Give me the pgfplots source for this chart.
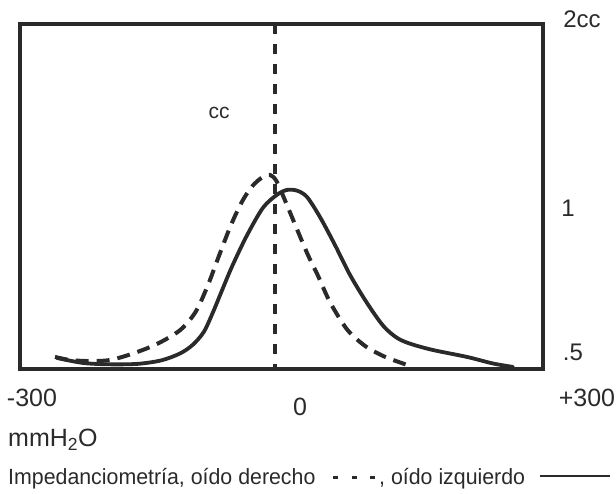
\documentclass[border=0pt]{standalone}
\usepackage{pgfplots}
\pgfplotsset{compat=1.18}
\usepackage{fontspec}
\setmainfont{Liberation Sans}
\definecolor{ink}{HTML}{2A2A2A}
\begin{document}
\begin{tikzpicture}
\useasboundingbox (-20pt,-124pt) rectangle (596pt,369pt);
\begin{axis}[name=ax, at={(0,0)}, anchor=south west, scale only axis,
  width=523pt, height=345pt,
  xmin=-302.7, xmax=262.7, ymin=0, ymax=2,
  axis line style={ink, line width=3.2pt},
  xtick=\empty, ytick=\empty, clip=false]
% oido izquierdo (solid)
\addplot[ink, line width=3.8pt, smooth, tension=0.5, line join=round, line cap=round] coordinates {
(-262.7,0.064) (-234.6,0.035) (-205.4,0.027) (-175.0,0.030) (-150.0,0.050) (-129.7,0.090)
(-116.0,0.140) (-104.0,0.215) (-94.0,0.330) (-84.0,0.460) (-73.0,0.600) (-57.3,0.775) (-40.0,0.935)
(-24.9,1.010) (-14.1,1.038) (-3.2,1.034) (7.6,0.997) (21.6,0.881)
(37.8,0.719) (54.1,0.545) (72.4,0.383) (90.0,0.250) (105.0,0.180) (120.0,0.145)
(143.8,0.110) (180.5,0.070) (208.6,0.032) (230.3,0.012)};
% oido derecho (dashed)
\addplot[ink, line width=4pt, smooth, tension=0.5, dash pattern=on 13pt off 8pt] coordinates {
(-264.9,0.070) (-248.6,0.052) (-227.0,0.046) (-205.4,0.052) (-180.5,0.090)
(-154.6,0.145) (-129.7,0.225) (-113.0,0.330) (-100.0,0.480) (-88.0,0.650)
(-75.0,0.830) (-62.7,0.970) (-51.9,1.058) (-41.1,1.110) (-32.4,1.125)
(-25.5,1.090) (-16.0,0.975) (-4.0,0.820) (8.6,0.661) (19.5,0.540)
(32.4,0.388) (50.8,0.230) (70.0,0.135) (90.0,0.075) (108.1,0.038) (122.2,0.012)};
% vertical reference line
\addplot[ink, line width=4.5pt, dash pattern=on 10pt off 10pt] coordinates {(-27,2) (-27,0)};
\end{axis}
\begin{scope}[every node/.style={inner sep=0pt, text=ink}]
\node[font=\fontsize{24}{28}\selectfont] at (562pt,350pt) {2cc};
\node[font=\fontsize{24}{28}\selectfont] at (548pt,161pt) {1};
\node[font=\fontsize{24}{28}\selectfont] at (553pt,17pt) {.5};
\node[font=\fontsize{21}{25}\selectfont] at (199pt,256pt) {cc};
\node[font=\fontsize{25}{29}\selectfont] at (12pt,-29pt) {-300};
\node[font=\fontsize{25}{29}\selectfont] at (280pt,-38pt) {0};
\node[font=\fontsize{25}{29}\selectfont] at (567pt,-29pt) {+300};
\node[font=\fontsize{25}{29}\selectfont, anchor=west] at (-12pt,-71pt) {mmH\textsubscript{2}O};
\node[font=\fontsize{22}{26}\selectfont, anchor=base west] at (-12pt,-115pt) {\scalebox{0.97}[1]{Impedanciometría, oído derecho}};
\node[font=\fontsize{22}{26}\selectfont, anchor=base west] at (359pt,-115pt) {\scalebox{0.97}[1]{, oído izquierdo}};
\end{scope}
\draw[ink, line width=3pt] (313pt,-108pt) -- (318pt,-108pt);
\draw[ink, line width=3pt] (332pt,-108pt) -- (337pt,-108pt);
\draw[ink, line width=3pt] (350pt,-108pt) -- (355pt,-108pt);
\draw[ink, line width=2pt] (520pt,-107pt) -- (590pt,-107pt);
\end{tikzpicture}
\end{document}
